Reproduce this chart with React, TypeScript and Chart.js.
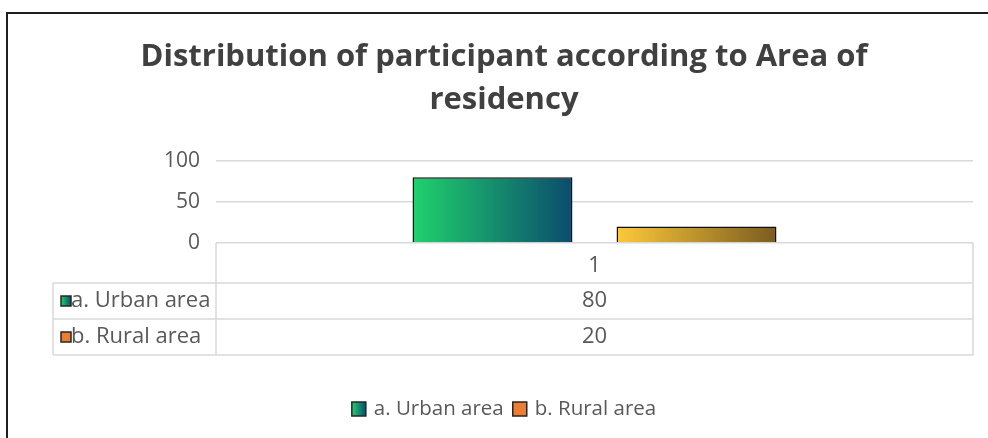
import React, { useEffect, useRef } from 'react';
import { Chart, registerables } from 'chart.js';

Chart.register(...registerables);

const titleLines = ['Distribution of participant according to Area of', 'residency'];
const categories = ['1'];
const seriesNames = ['a. Urban area', 'b. Rural area'];
const urbanValues = [80];
const ruralValues = [20];
const yTickValues = [0, 50, 100];

const urbanGradient = ['#20d16c', '#0b4c6e'];
const ruralGradient = ['#fdc93a', '#7a5c20'];
const ruralMarker = '#ed7d31';

const FONT = "'Open Sans', sans-serif";
const TEXT = '#595959';
const LINE = '#d9d9d9';

function gradFill(stops: string[]) {
  return (c: any) => {
    const el = c.element;
    const chart = c.chart;
    if (!el || !isFinite(el.x) || !el.width) return stops[0];
    const g = chart.ctx.createLinearGradient(el.x - el.width / 2, 0, el.x + el.width / 2, 0);
    g.addColorStop(0, stops[0]);
    g.addColorStop(1, stops[1]);
    return g;
  };
}

function drawMarker(ctx: CanvasRenderingContext2D, x: number, y: number, s: number, fill: string | string[]) {
  if (Array.isArray(fill)) {
    const g = ctx.createLinearGradient(x, 0, x + s, 0);
    g.addColorStop(0, fill[0]);
    g.addColorStop(1, fill[1]);
    ctx.fillStyle = g;
  } else {
    ctx.fillStyle = fill;
  }
  ctx.fillRect(x, y, s, s);
  ctx.strokeStyle = '#262626';
  ctx.lineWidth = 1.5;
  ctx.strokeRect(x, y, s, s);
}

const tablePlugin = {
  id: 'dataTableLegend',
  afterDraw(chart: any) {
    const { ctx, chartArea } = chart;
    const xs = chart.scales.x;
    const left = chartArea.left;
    const right = chartArea.right;
    const top = chartArea.bottom;
    const headerH = 40;
    const rowH = 36;
    const labelLeft = 53;
    const r1 = top + headerH;
    const r2 = r1 + rowH;
    const r3 = r2 + rowH;
    ctx.save();
    ctx.strokeStyle = LINE;
    ctx.lineWidth = 1.5;
    ctx.beginPath();
    ctx.moveTo(left, top); ctx.lineTo(left, r3);
    ctx.moveTo(right, top); ctx.lineTo(right, r3);
    ctx.moveTo(labelLeft, r1); ctx.lineTo(labelLeft, r3);
    [r1, r2, r3].forEach((y) => { ctx.moveTo(labelLeft, y); ctx.lineTo(right, y); });
    ctx.stroke();

    ctx.fillStyle = TEXT;
    ctx.font = `22px ${FONT}`;
    ctx.textBaseline = 'middle';
    ctx.textAlign = 'center';
    categories.forEach((cat, i) => {
      const cx = xs.getPixelForValue(i);
      ctx.fillStyle = TEXT;
      ctx.fillText(cat, cx, top + headerH / 2 + 3);
      ctx.fillText(String(urbanValues[i]), cx, r1 + rowH / 2);
      ctx.fillText(String(ruralValues[i]), cx, r2 + rowH / 2);
    });
    const rowFills: (string | string[])[] = [urbanGradient, ruralMarker];
    [r1, r2].forEach((y, i) => {
      drawMarker(ctx, 61, y + rowH / 2 - 5, 10, rowFills[i]);
      ctx.fillStyle = TEXT;
      ctx.textAlign = 'left';
      ctx.fillText(seriesNames[i], 71, y + rowH / 2);
    });

    // legend
    ctx.font = `20.5px ${FONT}`;
    const ly = 409;
    const box = 14;
    const gapBox = 8;
    const gapItem = 9;
    const widths = seriesNames.map((n) => ctx.measureText(n).width);
    const total = widths.reduce((a, w) => a + box + gapBox + w, 0) + gapItem;
    let lx = 504 - total / 2;
    seriesNames.forEach((n, i) => {
      drawMarker(ctx, lx, ly - box / 2, box, rowFills[i]);
      ctx.fillStyle = TEXT;
      ctx.textAlign = 'left';
      ctx.fillText(n, lx + box + gapBox, ly);
      lx += box + gapBox + widths[i] + gapItem;
    });

    // outer frame
    ctx.strokeStyle = '#1f1f1f';
    ctx.lineWidth = 2;
    ctx.beginPath();
    ctx.moveTo(7, 438); ctx.lineTo(7, 13); ctx.lineTo(988, 13);
    ctx.stroke();
    ctx.restore();
  },
};

export default function App() {
  const ref = useRef<HTMLCanvasElement>(null);
  useEffect(() => {
    if (!ref.current) return;
    const chart = new Chart(ref.current, {
      type: 'bar',
      data: {
        labels: categories,
        datasets: [
          {
            label: seriesNames[0],
            data: urbanValues,
            backgroundColor: gradFill(urbanGradient),
            borderColor: '#111111',
            borderWidth: 1.5,
            categoryPercentage: 0.539,
            barPercentage: 0.784,
          },
          {
            label: seriesNames[1],
            data: ruralValues,
            backgroundColor: gradFill(ruralGradient),
            borderColor: '#111111',
            borderWidth: 1.5,
            categoryPercentage: 0.539,
            barPercentage: 0.784,
          },
        ],
      },
      options: {
        animation: false,
        responsive: false,
        maintainAspectRatio: false,
        layout: { padding: { top: 35, left: 35, right: 15, bottom: 195 } },
        plugins: {
          legend: { display: false },
          tooltip: { enabled: false },
          title: {
            display: true,
            text: titleLines,
            color: '#404040',
            font: { family: FONT, size: 31, weight: 'bold', lineHeight: 1.4 },
            padding: { top: 0, bottom: 39 },
          },
        },
        scales: {
          x: { display: false },
          y: {
            min: 0,
            max: 100,
            afterBuildTicks: (s: any) => { s.ticks = yTickValues.map((v) => ({ value: v })); },
            afterFit: (s: any) => { s.width = 181; },
            border: { display: false },
            grid: { color: LINE, lineWidth: 1.5, drawTicks: false },
            ticks: { color: TEXT, font: { family: FONT, size: 21 }, padding: 16 },
          },
        },
      },
      plugins: [tablePlugin],
    });
    chart.update('none');
    return () => chart.destroy();
  }, []);
  return (
    <div style={{ position: 'fixed', left: 0, top: 0, width: 988, height: 438, background: '#fff' }}>
      <canvas ref={ref} width={988} height={438} style={{ display: 'block' }} />
    </div>
  );
}
